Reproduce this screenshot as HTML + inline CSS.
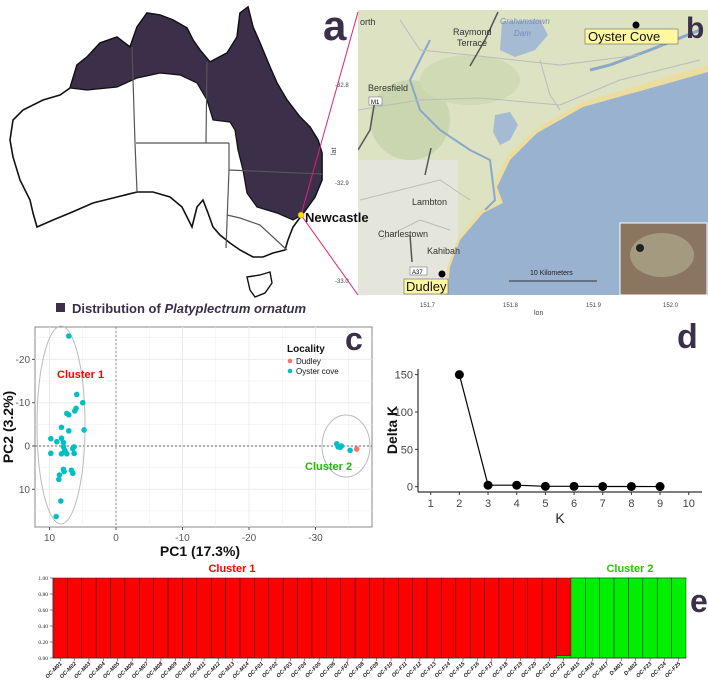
<!DOCTYPE html>
<html><head><meta charset="utf-8"><style>
body{margin:0;background:#fff}
svg{display:block;font-family:"Liberation Sans",sans-serif}
</style></head><body>
<svg id="fig" width="708" height="686" viewBox="0 0 708 686" xmlns="http://www.w3.org/2000/svg">
<!-- Panel a: Australia map -->
<g>
<polygon fill="#fff" stroke="#111" stroke-width="1.6" points="70,88 77,65 87,57 100,43 117,37 130,47 137,27 147,13 160,15 173,20 187,28 193,40 200,50 210,62 227,53 237,37 240,13 248,7 253,27 260,43 270,67 277,83 287,100 300,117 310,127 318,140 322,153 322,180 315,197 302,215 293,227 288,240 285,250 273,253 263,257 253,257 240,250 230,243 220,235 213,227 208,213 203,200 197,207 192,227 182,207 170,197 153,192 137,192 117,197 93,203 70,213 53,220 37,227 33,213 30,200 20,180 13,157 10,140 13,120 23,110 43,100 60,95"/>
<polygon fill="#3b2f4a" stroke="#111" stroke-width="1.2" points="70,88 77,65 87,57 100,43 117,37 130,47 137,27 147,13 160,15 173,20 187,28 193,40 200,50 210,62 227,53 237,37 240,13 248,7 253,27 260,43 270,67 277,83 287,100 300,117 310,127 318,140 322,153 322,180 315,197 302,215 293,220 277,213 257,207 247,193 243,170 238,150 235,130 230,122 213,120 207,100 197,83 180,75 160,73 137,78 117,87 87,90"/>
<polygon fill="#fff" stroke="#111" stroke-width="1.4" points="247,277 260,275 270,272 272,283 265,293 255,297 250,290"/>
<g stroke="#555" stroke-width="1.2" fill="none">
<polyline points="132,47 135,143 137,192"/>
<polyline points="136,143 229,143"/>
<polyline points="207,62 206,143"/>
<polyline points="229,143 229,170 322,174"/>
<polyline points="229,170 226,248"/>
<polyline points="227,215 240,218 260,225 287,250"/>
</g>
<text x="323" y="40" font-size="42" font-weight="bold" fill="#3b2f4a">a</text>
<rect x="56" y="303" width="9" height="9" fill="#3b2f4a"/>
<text x="72" y="313" font-size="13" font-weight="bold" fill="#3b2f4a">Distribution of <tspan font-style="italic">Platyplectrum ornatum</tspan></text>
</g>
<!-- Panel b: local map -->
<g>
<clipPath id="mapclip"><rect x="358" y="10" width="350" height="285"/></clipPath>
<g clip-path="url(#mapclip)">
<rect x="358" y="10" width="350" height="285" fill="#dde2c3"/>
<ellipse cx="410" cy="120" rx="40" ry="40" fill="#cad6b0"/>
<ellipse cx="470" cy="80" rx="50" ry="25" fill="#d0dab5"/>
<rect x="358" y="160" width="100" height="135" fill="#e4e6dc"/>
<polygon fill="#ecdd9e" points="708,65 583,102 537,128 508,155 493,185 500,203 480,210 458,238 447,267 444,295 450,295 460,240 483,213 503,203 497,187 510,160 537,133 583,107 708,72"/>
<polygon fill="#98b2cf" points="708,72 583,107 537,133 510,160 497,187 503,203 483,213 460,240 450,267 447,295 708,295"/>
<polygon fill="#a5bbd4" points="502,22 540,20 548,35 535,50 515,57 500,50"/>
<polygon fill="#a5bbd4" points="495,115 510,112 518,125 510,140 500,145 493,132"/>
<polyline fill="none" stroke="#8aa8c8" stroke-width="3" points="700,30 650,50 610,65 590,70"/>
<polyline fill="none" stroke="#8aa8c8" stroke-width="2" points="430,40 420,60 410,80 420,110 440,130 470,150 490,160 495,200 485,210"/>
<g stroke="#bbb" stroke-width="1" fill="none">
<polyline points="358,110 420,100 480,98 560,105 620,80 700,60"/>
<polyline points="400,20 420,50 470,55 560,65 640,55"/>
<polyline points="360,200 400,190 440,180 470,200"/>
<polyline points="380,240 420,220 450,230"/>
<polyline points="540,60 550,95 560,110"/>
</g>
<polyline fill="none" stroke="#555" stroke-width="1.5" points="498,12 485,40 470,66"/>
<polyline fill="none" stroke="#555" stroke-width="1.5" points="375,100 370,130 358,150"/>
<polyline fill="none" stroke="#555" stroke-width="1.5" points="431,148 425,175"/>
<polyline fill="none" stroke="#555" stroke-width="1.5" points="410,235 412,262"/>
</g>
<g font-size="9" fill="#333">
<text x="360" y="25">orth</text>
<text x="453" y="35">Raymond</text><text x="457" y="46">Terrace</text>
<text x="368" y="91">Beresfield</text>
<text x="412" y="205">Lambton</text>
<text x="378" y="237">Charlestown</text>
<text x="427" y="254">Kahibah</text>
<text x="500" y="24" font-style="italic" fill="#6f8fb7" font-size="8">Grahamstown</text>
<text x="514" y="36" font-style="italic" fill="#6f8fb7" font-size="8">Dam</text>
</g>
<rect x="369" y="97" width="13" height="8" fill="#fff" stroke="#777" stroke-width="0.6"/><text x="371" y="104" font-size="6">M1</text>
<rect x="410" y="267" width="17" height="8" fill="#fff" stroke="#777" stroke-width="0.6"/><text x="412" y="274" font-size="6">A37</text>
<circle cx="636" cy="25" r="3.5" fill="#000"/>
<rect x="585" y="29" width="93" height="15" fill="#fff8a0" stroke="#666" stroke-width="0.6"/>
<text x="588" y="41" font-size="13" fill="#111">Oyster Cove</text>
<circle cx="442" cy="274" r="3.5" fill="#000"/>
<rect x="404" y="279" width="44" height="15" fill="#fff8a0" stroke="#666" stroke-width="0.6"/>
<text x="406" y="291" font-size="13" fill="#111">Dudley</text>
<text x="530" y="275" font-size="7" fill="#222">10 Kilometers</text>
<line x1="509" y1="281" x2="597" y2="281" stroke="#333" stroke-width="1"/>
<rect x="620" y="223" width="87" height="72" fill="#8a7560" stroke="#fff" stroke-width="1"/>
<ellipse cx="662" cy="255" rx="32" ry="22" fill="#a49a80"/>
<circle cx="640" cy="248" r="4" fill="#222"/>
<text x="686" y="38" font-size="30" font-weight="bold" fill="#3b2f4a">b</text>
<g font-size="6" fill="#444">
<text x="335" y="87">-32.8</text><text x="335" y="185">-32.9</text><text x="335" y="283">-33.0</text>
<text x="420" y="307">151.7</text><text x="503" y="307">151.8</text><text x="586" y="307">151.9</text><text x="663" y="307">152.0</text>
<text x="534" y="315" font-size="7">lon</text>
<text transform="translate(336,155) rotate(-90)" font-size="7">lat</text>
</g>
</g>
<line x1="301" y1="215" x2="358" y2="12" stroke="#e0207a" stroke-width="1"/>
<line x1="301" y1="215" x2="358" y2="295" stroke="#e0207a" stroke-width="1"/>
<circle cx="301" cy="215" r="3" fill="#ffe000" stroke="#aa9000" stroke-width="0.5"/>
<text x="305" y="222" font-size="13" font-weight="bold" fill="#111">Newcastle</text>
<!-- Panel c: PCA -->
<g id="pca"></g>
<!-- Panel d -->
<g id="deltak"></g>
<!-- Panel e -->
<g id="structure"></g>
</svg>
<script>
const NS='http://www.w3.org/2000/svg';
function mk(p,t,a,txt){const e=document.createElementNS(NS,t);for(const k in a)e.setAttribute(k,a[k]);if(txt!==undefined)e.textContent=txt;p.appendChild(e);return e;}

// ---------- PCA data ----------
const pc1Cluster1=[7.1,5.9,5.0,6.0,6.2,7.4,7.1,8.2,7.1,4.8,9.8,8.2,8.9,7.9,7.9,6.3,6.5,7.7,9.8,8.2,7.4,6.3,7.9,7.8,6.7,6.5,8.5,8.6,8.3,9.0];
const pc2Cluster1=[-25.4,-11.9,-10,-8.7,-8.1,-7.5,-7.2,-4.3,-3.5,-3.7,-1.7,-1.8,-1.0,-0.8,0.2,0.2,0.6,1.0,1.7,1.8,1.8,1.7,5.4,5.9,5.6,6.3,6.7,7.7,12.7,16.3];
const pc1Oyster2=[-33.2,-33.4,-33.7,-33.9,-35.2];
const pc2Oyster2=[-0.5,0.2,0.3,0.0,1.0];
const pc1Dudley=[-36.2];
const pc2Dudley=[0.7];
const pcXTicks=[10,0,-10,-20,-30];
const pcYTicks=[-20,-10,0,10];
const pcX=v=>116-v*6.65;
const pcY=v=>446+v*4.33;
(function(){
const g=document.getElementById('pca');
const bg=mk(g,'rect',{x:35,y:327,width:337,height:200,fill:'#fff',stroke:'#888','stroke-width':1});


for(let v=15;v>=-35;v-=5){const x=pcX(v);if(x>35&&x<372)mk(g,'line',{x1:x,y1:327,x2:x,y2:527,stroke:'#ececec','stroke-width':v%10===0?1:0.5});}
for(let v=-25;v<=15;v+=5){const y=pcY(v);if(y>327&&y<527)mk(g,'line',{x1:35,y1:y,x2:372,y2:y,stroke:'#ececec','stroke-width':v%10===0?1:0.5});}
mk(g,'line',{x1:pcX(0),y1:327,x2:pcX(0),y2:527,stroke:'#888','stroke-dasharray':'2,2'});
mk(g,'line',{x1:35,y1:pcY(0),x2:372,y2:pcY(0),stroke:'#666','stroke-dasharray':'2,2'});
const e1=mk(g,'ellipse',{cx:61,cy:425,rx:24,ry:99,fill:'none',stroke:'#bbb'});


const e2=mk(g,'ellipse',{cx:346,cy:446,rx:24,ry:31,fill:'none',stroke:'#bbb'});


pc1Cluster1.forEach((v,i)=>{const c=mk(g,'circle',{cx:pcX(v),cy:pcY(pc2Cluster1[i]),r:2.8,fill:'#00bfc4'});

});
pc1Oyster2.forEach((v,i)=>{const c=mk(g,'circle',{cx:pcX(v),cy:pcY(pc2Oyster2[i]),r:2.8,fill:'#00bfc4'});

});
pc1Dudley.forEach((v,i)=>{const c=mk(g,'circle',{cx:pcX(v),cy:pcY(pc2Dudley[i]),r:2.8,fill:'#f8766d'});

});
pcXTicks.forEach(v=>{mk(g,'line',{x1:pcX(v),y1:527,x2:pcX(v),y2:530,stroke:'#555'});mk(g,'text',{x:pcX(v),y:541,'font-size':10,'text-anchor':'middle',fill:'#555'},String(v));});
pcYTicks.forEach(v=>{mk(g,'line',{x1:32,y1:pcY(v),x2:35,y2:pcY(v),stroke:'#555'});mk(g,'text',{x:30,y:pcY(v)+3.5,'font-size':10,'text-anchor':'end',fill:'#555'},String(v));});
const xt=mk(g,'text',{x:200,y:556,'font-size':14,'font-weight':'bold','text-anchor':'middle',fill:'#111'},'PC1 (17.3%)');


const yt=mk(g,'text',{transform:'translate(13,427) rotate(-90)','font-size':14,'font-weight':'bold','text-anchor':'middle',fill:'#111'},'PC2 (3.2%)');


mk(g,'text',{x:57,y:378,'font-size':11,'font-weight':'bold',fill:'#f00'},'Cluster 1');
mk(g,'text',{x:305,y:470,'font-size':11,'font-weight':'bold',fill:'#22bb00'},'Cluster 2');
mk(g,'text',{x:287,y:352,'font-size':10,'font-weight':'bold',fill:'#111'},'Locality');
mk(g,'circle',{cx:290,cy:361,r:2.3,fill:'#f8766d'});
mk(g,'text',{x:296,y:364,'font-size':8,fill:'#111'},'Dudley');
mk(g,'circle',{cx:290,cy:371,r:2.3,fill:'#00bfc4'});
mk(g,'text',{x:296,y:374,'font-size':8,fill:'#111'},'Oyster cove');
const lc=mk(g,'text',{x:345,y:350,'font-size':32,'font-weight':'bold',fill:'#3b2f4a'},'c');


})();

// ---------- Delta K ----------
const kValues=[2,3,4,5,6,7,8,9];
const deltaK=[150,2,2,0.5,0.5,0.3,0.3,0.2];
const kTicks=[1,2,3,4,5,6,7,8,9,10];
const dkTicks=[0,50,100,150];
const dX=k=>430.7+(k-1)*28.67;
const dY=v=>486.7-v*0.747;
(function(){
const g=document.getElementById('deltak');
mk(g,'line',{x1:418,y1:369,x2:418,y2:492,stroke:'#333','stroke-width':1.2});
mk(g,'line',{x1:418,y1:492,x2:702,y2:492,stroke:'#333','stroke-width':1.2});
dkTicks.forEach(v=>{mk(g,'line',{x1:415,y1:dY(v),x2:418,y2:dY(v),stroke:'#333'});mk(g,'text',{x:413,y:dY(v)+4,'font-size':11,'text-anchor':'end',fill:'#444'},String(v));});
kTicks.forEach(k=>{mk(g,'line',{x1:dX(k),y1:492,x2:dX(k),y2:495,stroke:'#333'});mk(g,'text',{x:dX(k),y:507,'font-size':11,'text-anchor':'middle',fill:'#444'},String(k));});
const pts=kValues.map((k,i)=>dX(k)+','+dY(deltaK[i])).join(' ');
const ln=mk(g,'polyline',{points:pts,fill:'none',stroke:'#000','stroke-width':1.2});


kValues.forEach((k,i)=>{const c=mk(g,'circle',{cx:dX(k),cy:dY(deltaK[i]),r:4.5,fill:'#000'});

});
mk(g,'text',{x:560,y:523,'font-size':14,'text-anchor':'middle',fill:'#222'},'K');
mk(g,'text',{transform:'translate(397,430) rotate(-90)','font-size':14,'font-weight':'bold','text-anchor':'middle',fill:'#111'},'Delta K');
const ld=mk(g,'text',{x:677,y:348,'font-size':34,'font-weight':'bold',fill:'#3b2f4a'},'d');


})();

// ---------- STRUCTURE ----------
const sampleNames=['OC-M01','OC-M02','OC-M03','OC-M04','OC-M05','OC-M06','OC-M07','OC-M08','OC-M09','OC-M10','OC-M11','OC-M12','OC-M13','OC-M14','OC-F01','OC-F02','OC-F03','OC-F04','OC-F05','OC-F06','OC-F07','OC-F08','OC-F09','OC-F10','OC-F11','OC-F12','OC-F13','OC-F14','OC-F15','OC-F16','OC-F17','OC-F18','OC-F19','OC-F20','OC-F21','OC-F22','OC-M15','OC-M16','OC-M17','D-M01','D-M02','OC-F23','OC-F24','OC-F25'];
const cluster1Q=[1,1,1,1,1,1,1,1,1,1,1,1,1,1,1,1,1,1,1,1,1,1,1,1,1,1,1,1,1,1,1,1,1,1,1,0.97,0,0,0,0,0,0,0,0];
const yTicksE=['0.00','0.20','0.40','0.60','0.80','1.00'];
(function(){
const g=document.getElementById('structure');
const L=53,R=686,T=578,B=658;
const n=sampleNames.length,w=(R-L)/n;
const sY=v=>B-v*(B-T);
yTicksE.forEach(t=>{const y=sY(parseFloat(t));mk(g,'line',{x1:L-3,y1:y,x2:L,y2:y,stroke:'#333','stroke-width':0.6});mk(g,'text',{x:L-5,y:y+2,'font-size':5.5,'text-anchor':'end','font-family':'Liberation Serif',fill:'#222'},t);});
sampleNames.forEach((nm,i)=>{
 const x=L+i*w,q=cluster1Q[i];
 const r=mk(g,'rect',{x:x,y:sY(1),width:w,height:sY(1-q)-sY(1)+0.001,fill:'#ff0000',stroke:'#222','stroke-width':0.5});
 
 
 const gr=mk(g,'rect',{x:x,y:sY(1-q),width:w,height:B-sY(1-q),fill:'#00ee00',stroke:'#222','stroke-width':0.5});
 
 
 const cx=x+w/2;
 mk(g,'line',{x1:cx,y1:B,x2:cx,y2:B+3,stroke:'#333','stroke-width':0.5});
 mk(g,'text',{transform:`translate(${cx+2},${B+6}) rotate(-45)`,'font-size':5.5,'text-anchor':'end','font-weight':'bold','font-style':'italic',fill:'#222'},nm);
});
mk(g,'line',{x1:L,y1:B,x2:R,y2:B,stroke:'#333','stroke-width':0.8});
mk(g,'line',{x1:L,y1:T,x2:L,y2:B,stroke:'#333','stroke-width':0.8});
mk(g,'text',{x:232,y:572,'font-size':11,'font-weight':'bold','text-anchor':'middle',fill:'#f00'},'Cluster 1');
mk(g,'text',{x:630,y:572,'font-size':11,'font-weight':'bold','text-anchor':'middle',fill:'#22cc00'},'Cluster 2');
const le=mk(g,'text',{x:690,y:612,'font-size':32,'font-weight':'bold',fill:'#3b2f4a'},'e');


})();
</script>
</body></html>
